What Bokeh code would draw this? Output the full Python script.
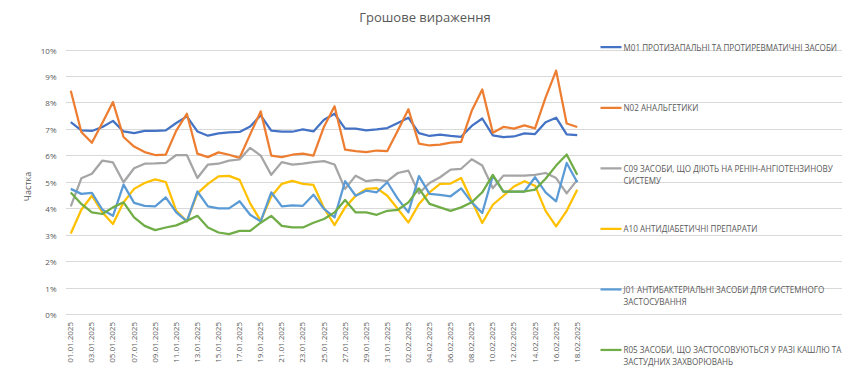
import math
import pandas as pd
from bokeh.plotting import figure
from bokeh.models import Range1d, FixedTicker
from bokeh.embed import file_html
from bokeh.resources import INLINE
from bokeh.core.properties import value

# ---------------- data ----------------
dates = list(pd.date_range("2025-01-01", "2025-02-18").strftime("%d.%m.%Y"))

m01 = [7.27, 6.96, 6.94, 7.09, 7.32, 6.92, 6.86, 6.94, 6.94, 6.96, 7.24, 7.49,
       6.92, 6.76, 6.85, 6.89, 6.90, 7.11, 7.53, 6.95, 6.91, 6.91, 7.00, 6.92,
       7.36, 7.59, 7.03, 7.03, 6.96, 7.00, 7.05, 7.24, 7.44, 6.86, 6.75, 6.80,
       6.75, 6.72, 7.13, 7.41, 6.77, 6.71, 6.73, 6.85, 6.82, 7.27, 7.44, 6.81, 6.78]
n02 = [8.46, 6.90, 6.49, 7.25, 8.03, 6.71, 6.35, 6.14, 6.03, 6.04, 6.95, 7.59,
       6.08, 5.95, 6.13, 6.04, 5.92, 6.81, 7.68, 6.01, 5.95, 6.04, 6.08, 6.01,
       7.10, 7.87, 6.23, 6.18, 6.14, 6.20, 6.18, 6.96, 7.76, 6.46, 6.39, 6.42,
       6.50, 6.53, 7.70, 8.51, 6.87, 7.09, 7.03, 7.15, 7.04, 8.20, 9.22, 7.22, 7.09]
c09 = [4.09, 5.15, 5.32, 5.82, 5.75, 5.00, 5.53, 5.70, 5.71, 5.73, 6.03, 6.03,
       5.16, 5.67, 5.70, 5.82, 5.86, 6.30, 6.01, 5.28, 5.76, 5.67, 5.70, 5.76,
       5.80, 5.67, 4.75, 5.25, 5.04, 5.09, 5.04, 5.35, 5.44, 4.58, 4.97, 5.19,
       5.48, 5.51, 5.87, 5.63, 4.77, 5.25, 5.25, 5.25, 5.28, 5.35, 5.16, 4.58, 5.09]
a10 = [3.06, 3.96, 4.49, 3.86, 3.42, 4.24, 4.75, 4.97, 5.11, 5.01, 3.92, 3.52,
       4.58, 4.94, 5.22, 5.24, 5.09, 4.20, 3.54, 4.46, 4.94, 5.05, 4.94, 4.90,
       4.02, 3.38, 4.05, 4.49, 4.75, 4.78, 4.49, 3.99, 3.48, 4.18, 4.62, 4.94,
       4.95, 5.16, 4.30, 3.46, 4.15, 4.49, 4.84, 5.04, 4.87, 3.92, 3.33, 3.92, 4.72]
j01 = [4.75, 4.56, 4.60, 3.96, 3.73, 4.91, 4.22, 4.11, 4.09, 4.43, 3.86, 3.52,
       4.65, 4.09, 4.01, 4.01, 4.28, 3.77, 3.52, 4.62, 4.09, 4.13, 4.11, 4.53,
       3.99, 3.67, 5.04, 4.49, 4.68, 4.62, 5.00, 4.37, 3.86, 5.23, 4.56, 4.52,
       4.47, 4.77, 4.24, 3.84, 5.25, 4.65, 4.65, 4.65, 5.19, 4.62, 4.28, 5.73, 5.00]
r05 = [4.61, 4.18, 3.86, 3.80, 4.05, 4.24, 3.67, 3.35, 3.19, 3.29, 3.37, 3.54,
       3.73, 3.29, 3.10, 3.04, 3.16, 3.16, 3.47, 3.73, 3.35, 3.29, 3.29, 3.47,
       3.61, 3.86, 4.33, 3.86, 3.86, 3.77, 3.92, 3.96, 4.24, 4.77, 4.18, 4.05,
       3.92, 4.05, 4.24, 4.62, 5.28, 4.65, 4.65, 4.65, 4.72, 5.13, 5.63, 6.05, 5.28]

series = [m01, n02, c09, a10, j01, r05]
names = [
    "M01 ПРОТИЗАПАЛЬНІ ТА ПРОТИРЕВМАТИЧНІ ЗАСОБИ",
    "N02 АНАЛЬГЕТИКИ",
    "C09 ЗАСОБИ, ЩО ДІЮТЬ НА РЕНІН-АНГІОТЕНЗИНОВУ\nСИСТЕМУ",
    "A10 АНТИДІАБЕТИЧНІ ПРЕПАРАТИ",
    "J01 АНТИБАКТЕРІАЛЬНІ ЗАСОБИ ДЛЯ СИСТЕМНОГО\nЗАСТОСУВАННЯ",
    "R05 ЗАСОБИ, ЩО ЗАСТОСОВУЮТЬСЯ У РАЗІ КАШЛЮ ТА\nЗАСТУДНИХ ЗАХВОРЮВАНЬ",
]
title_text = "Грошове вираження"
colors = ["#4472C4", "#ED7D31", "#A5A5A5", "#FFC000", "#5B9BD5", "#70AD47"]
y_ticks = list(range(0, 11))
x_ticks = list(range(0, len(dates), 2))

TXT = "#595959"
FONT = "Open Sans"

# ---------------- layout constants (pixels) ----------------
W, H = 842, 372
ML = 65                    # left border (y-axis panel)
N = len(dates)
PX = 517.0 / N             # pixels per category
ZERO = 314.0               # pixel row of 0 %
PY = (ZERO - 49.5) / 10.0  # pixels per percent point


def dx(px):
    return -0.5 + (px - ML) / PX


def dy(py):
    return (ZERO - py) / PY


p = figure(width=W, height=H, output_backend="svg", toolbar_location=None,
           x_range=Range1d(-0.5, dx(W)), y_range=Range1d(dy(H), dy(0)),
           min_border_left=ML, min_border_right=0, min_border_top=0,
           min_border_bottom=0, x_axis_location=None)
p.outline_line_color = None
p.background_fill_color = "white"
p.border_fill_color = "white"

xs = list(range(N))
for ys, c in zip(series, colors):
    p.line(xs, ys, line_width=2.25, line_color=c, line_join="round")

p.xgrid.visible = False
p.ygrid.ticker = FixedTicker(ticks=y_ticks)
p.ygrid.grid_line_color = "#d9d9d9"
p.ygrid.grid_line_width = 1
p.ygrid.bounds = (-0.5, N - 0.5)

ax = p.yaxis[0]
ax.ticker = FixedTicker(ticks=y_ticks)
ax.major_label_overrides = {t: f"{t}%" for t in y_ticks}
ax.bounds = (0, 10)
ax.axis_line_color = None
ax.major_tick_line_color = None
ax.minor_tick_line_color = None
ax.major_tick_out = 0
ax.major_tick_in = 0
ax.major_label_text_font = FONT
ax.major_label_text_font_size = "8px"
ax.major_label_text_color = TXT
ax.major_label_standoff = 9
ax.axis_label = "Частка"
ax.axis_label_text_font = FONT
ax.axis_label_text_font_size = "9px"
ax.axis_label_text_font_style = "normal"
ax.axis_label_text_color = TXT
ax.axis_label_standoff = 4

# category (date) labels under the 0 % line, every second day, rotated
p.text(x_ticks, [dy(ZERO + 7.5)] * len(x_ticks), text=[dates[t] for t in x_ticks],
       angle=math.pi / 2, text_font=value(FONT), text_font_size="8px",
       text_color=TXT, text_align="right", text_baseline="middle")

# ---------------- title ----------------
p.text([dx(424.5)], [dy(16.7)], text=[title_text], text_font=value(FONT),
       text_font_size="13px", text_color=TXT, text_align="center",
       text_baseline="middle")

# ---------------- legend ----------------
y0, step, lh = 46.7, 60.55, 11.8
for k, (nm, c) in enumerate(zip(names, colors)):
    yk = y0 + step * k
    p.line([dx(600), dx(621)], [dy(yk), dy(yk)], line_width=2.25, line_color=c)
    for j, part in enumerate(nm.split("\n")):
        p.text([dx(623)], [dy(yk + j * lh)], text=[part], text_font=value(FONT),
               text_font_size="8.1px", text_color=TXT, text_baseline="middle")

open("out.html", "w").write(file_html(p, INLINE))
